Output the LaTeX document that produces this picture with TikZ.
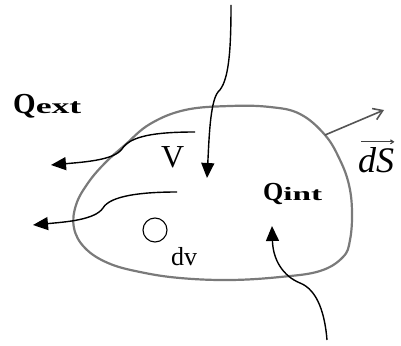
\documentclass[tikz,border=0pt]{standalone}
\usepackage{fontspec}
\setmainfont{Liberation Serif}
\usetikzlibrary{arrows.meta}
\definecolor{blobgray}{HTML}{7A7A7A}
\tikzset{
  flow/.style={line width=1.4pt, black, -{Triangle[length=15pt,width=13pt]}},
  lbl/.style={inner sep=0pt, anchor=base west, text=black},
}
\newcommand{\fs}[1]{\fontsize{#1}{#1}\selectfont}
\begin{document}
\begin{tikzpicture}[x=1pt,y=-1pt]
\useasboundingbox (0,0) rectangle (401,345);
% surface
\draw[blobgray, line width=2.2pt] plot[smooth cycle, tension=0.65] coordinates {
 (230,106) (270,107) (300,114) (325,135) (340,160) (349,185) (352,212)
 (350,240) (343,257) (320,271) (280,277) (230,280) (180,278) (140,272)
 (108,263) (85,248) (74,228) (76,205) (88,183) (105,163) (125,145)
 (150,124) (185,110)};
% normal vector
\coordinate (s0) at (325,135);
\coordinate (s1) at (384,110);
\draw[blobgray!70!black, line width=1.6pt, -{Straight Barb[length=9pt,width=12pt]}] (s0) -- (s1);
% labels
\node[lbl] (qext) at (13,113) {\fs{29}\bfseries Q\scalebox{1.7}[1]{\fs{21}ext}};
\node[lbl] (V) at (161,167) {\fs{32}V};
\node[lbl] (dv) at (171,265) {\fs{26}dv};
\node[lbl] (qint) at (263,200) {\fs{26}\bfseries Q\scalebox{1.75}[1]{\fs{19}int}};
\node[lbl] (dS) at (358,172) {\fs{36}\itshape dS};
\draw[line width=1.1pt, black!75, -{Straight Barb[length=3pt,width=4pt]}]
  ([shift={(3,-5)}]dS.north west) -- ([shift={(0,-5)}]dS.north east);
% volume element
\node[draw, circle, line width=1.1pt, minimum size=24pt, inner sep=0pt] (elem) at (155,230) {};
% flows
\coordinate (a1s) at (195,132);
\coordinate (a1k) at (122,149);
\coordinate (a1e) at (51,165);
\draw[flow] (a1s) .. controls (155,132) and (130,136) .. (a1k)
  .. controls (114,160) and (85,162) .. (a1e);
\coordinate (a2s) at (177,192);
\coordinate (a2k) at (103,208);
\coordinate (a2e) at (33,225);
\draw[flow] (a2s) .. controls (140,192) and (110,196) .. (a2k)
  .. controls (95,220) and (65,222) .. (a2e);
\coordinate (a3s) at (231,5);
\coordinate (a3k) at (218,92);
\coordinate (a3e) at (207,178);
\draw[flow] (a3s) .. controls (231,50) and (229,82) .. (a3k)
  .. controls (210,102) and (209,140) .. (a3e);
\coordinate (a4s) at (327,340);
\coordinate (a4k) at (300,283);
\coordinate (a4e) at (272,226);
\draw[flow] (a4s) .. controls (325,315) and (318,290) .. (a4k)
  .. controls (283,276) and (273,260) .. (a4e);
\end{tikzpicture}
\end{document}
